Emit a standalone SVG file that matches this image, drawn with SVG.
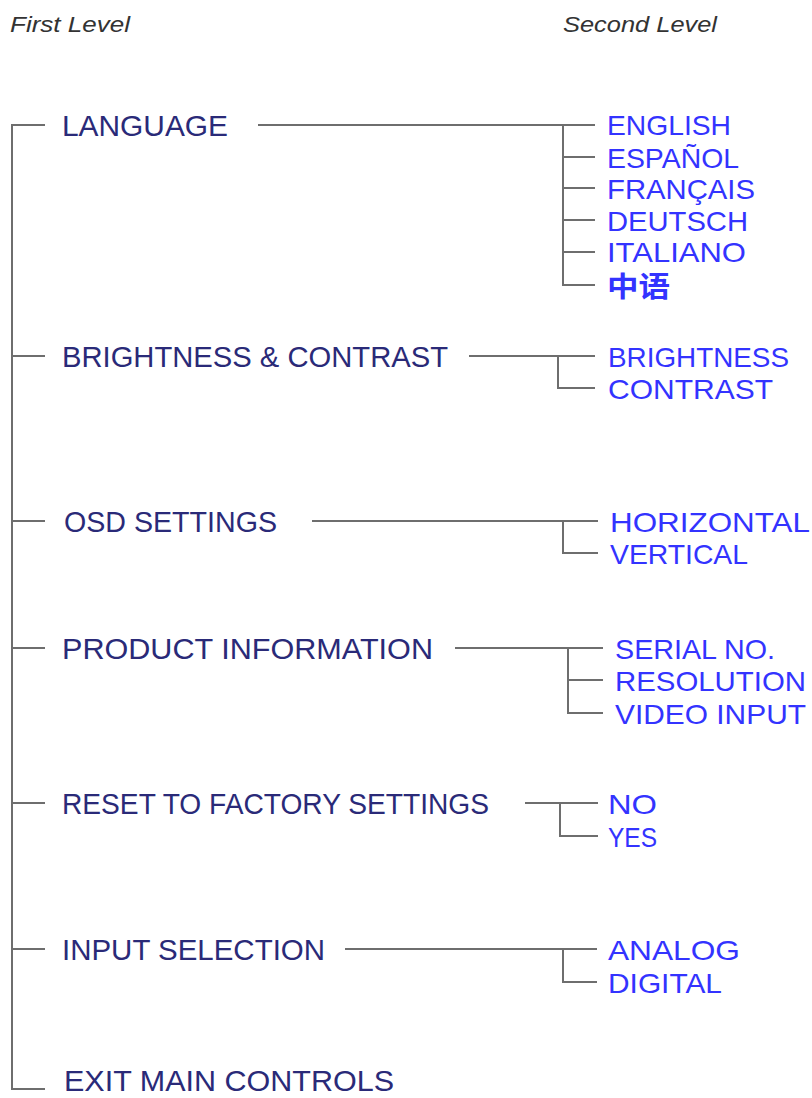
<svg xmlns="http://www.w3.org/2000/svg" width="812" height="1098" viewBox="0 0 812 1098">
<style>
.hd{font-family:"Liberation Sans",Arial,sans-serif;font-style:italic;font-size:22px;fill:#333}
.l1{font-family:"Liberation Sans",Arial,sans-serif;font-size:29px;fill:#2a2a78}
.l2{font-family:"Liberation Sans","Noto Sans CJK SC",Arial,sans-serif;font-size:28px;fill:#3333ff}
.ln{stroke:#6e6e6e;stroke-width:2;fill:none}
</style>
<rect width="812" height="1098" fill="#fff"/>
<text class="hd" x="10" y="32" textLength="120" lengthAdjust="spacingAndGlyphs">First Level</text>
<text class="hd" x="563" y="32" textLength="154" lengthAdjust="spacingAndGlyphs">Second Level</text>
<g id="connectors" class="ln">
<path d="M45 125H12V1089H45M12 356H45M12 521H45M12 648H45M12 803H45M12 949H45"/>
<path d="M258 125H595M563 125V285H595M563 157H595M563 188H595M563 220H595M563 252H595"/>
<path d="M469 356H595M558 356V388H595"/>
<path d="M312 521H598M563 521V553H598"/>
<path d="M455 648H603M568 648V713H603M568 680H603"/>
<path d="M525 803H598M560 803V836H598"/>
<path d="M345 949H597M563 949V982H597"/>
</g>
<g id="language"><text class="l1" x="62" y="136" textLength="166" lengthAdjust="spacingAndGlyphs">LANGUAGE</text></g>
<g id="english"><text class="l2" x="607" y="135" textLength="124" lengthAdjust="spacingAndGlyphs">ENGLISH</text></g>
<g id="espanol"><text class="l2" x="607" y="168" textLength="132" lengthAdjust="spacingAndGlyphs">ESPAÑOL</text></g>
<g id="francais"><text class="l2" x="607" y="199" textLength="148" lengthAdjust="spacingAndGlyphs">FRANÇAIS</text></g>
<g id="deutsch"><text class="l2" x="607" y="231" textLength="141" lengthAdjust="spacingAndGlyphs">DEUTSCH</text></g>
<g id="italiano"><text class="l2" x="607" y="262" textLength="139" lengthAdjust="spacingAndGlyphs">ITALIANO</text></g>
<g id="chinese"><text class="l2" x="607" y="297" font-weight="bold" textLength="63" lengthAdjust="spacingAndGlyphs">中语</text></g>
<g id="brightness-contrast"><text class="l1" x="62" y="367" textLength="386" lengthAdjust="spacingAndGlyphs">BRIGHTNESS &amp; CONTRAST</text></g>
<g id="brightness"><text class="l2" x="608" y="367" textLength="181" lengthAdjust="spacingAndGlyphs">BRIGHTNESS</text></g>
<g id="contrast"><text class="l2" x="608" y="399" textLength="165" lengthAdjust="spacingAndGlyphs">CONTRAST</text></g>
<g id="osd"><text class="l1" x="64" y="532" textLength="213" lengthAdjust="spacingAndGlyphs">OSD SETTINGS</text></g>
<g id="horizontal"><text class="l2" x="610" y="532" textLength="200" lengthAdjust="spacingAndGlyphs">HORIZONTAL</text></g>
<g id="vertical"><text class="l2" x="610" y="564" textLength="138" lengthAdjust="spacingAndGlyphs">VERTICAL</text></g>
<g id="product"><text class="l1" x="62" y="659" textLength="371" lengthAdjust="spacingAndGlyphs">PRODUCT INFORMATION</text></g>
<g id="serial"><text class="l2" x="615" y="659" textLength="160" lengthAdjust="spacingAndGlyphs">SERIAL NO.</text></g>
<g id="resolution"><text class="l2" x="615" y="691" textLength="191" lengthAdjust="spacingAndGlyphs">RESOLUTION</text></g>
<g id="video"><text class="l2" x="615" y="724" textLength="191" lengthAdjust="spacingAndGlyphs">VIDEO INPUT</text></g>
<g id="reset"><text class="l1" x="62" y="814" textLength="427" lengthAdjust="spacingAndGlyphs">RESET TO FACTORY SETTINGS</text></g>
<g id="no"><text class="l2" x="608" y="814" textLength="49" lengthAdjust="spacingAndGlyphs">NO</text></g>
<g id="yes"><text class="l2" x="608" y="847" textLength="49" lengthAdjust="spacingAndGlyphs">YES</text></g>
<g id="input"><text class="l1" x="62" y="960" textLength="263" lengthAdjust="spacingAndGlyphs">INPUT SELECTION</text></g>
<g id="analog"><text class="l2" x="608" y="960" textLength="132" lengthAdjust="spacingAndGlyphs">ANALOG</text></g>
<g id="digital"><text class="l2" x="608" y="993" textLength="114" lengthAdjust="spacingAndGlyphs">DIGITAL</text></g>
<g id="exit"><text class="l1" x="64" y="1091" textLength="330" lengthAdjust="spacingAndGlyphs">EXIT MAIN CONTROLS</text></g>
</svg>
